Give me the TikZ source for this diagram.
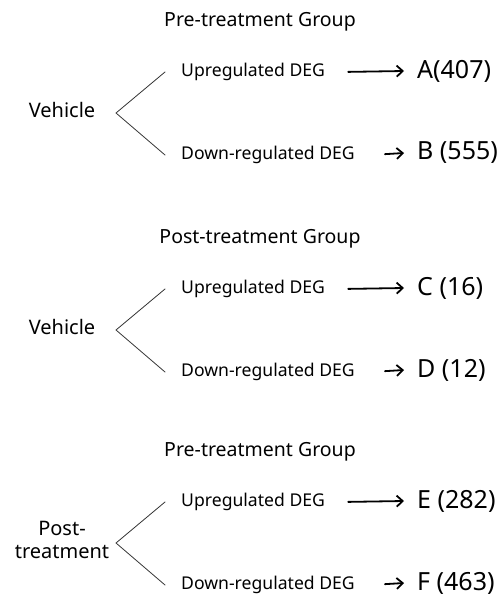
\documentclass[tikz,border=0pt]{standalone}
\usepackage{fontspec}
\setmainfont{Noto Sans}
\usetikzlibrary{arrows.meta}
\tikzset{
  title/.style={font=\fontsize{19.5}{23}\selectfont},
  source/.style={align=center, font=\fontsize{20}{23}\selectfont},
  deg/.style={anchor=west, inner xsep=16pt, inner ysep=0pt, font=\fontsize{17.6}{20}\selectfont},
  result/.style={anchor=west, inner xsep=13pt, inner ysep=0pt, font=\fontsize{25}{28}\selectfont},
  branch/.style={draw=black!80, line width=0.8pt},
  pointer/.style={draw, line width=1.8pt, -{Straight Barb[length=6pt, width=11pt]}}
}
\begin{document}
\begin{tikzpicture}[x=1pt, y=-1pt, line join=round, line cap=round]
  \useasboundingbox (0,0) rectangle (503,597);
  \foreach \y/\n/\grp/\src/\ra/\rb in {113/1/Pre-treatment Group/Vehicle/A(407)/B (555),
      330/2/Post-treatment Group/Vehicle/C (16)/D (12),
      543/3/Pre-treatment Group/{Post-\\treatment}/E (282)/F (463)}{
    \node[title] (grp\n) at (260,\y-91) {\grp};
    \node[source] (src\n) at (62,\y-3) {\src};
    \coordinate (v\n) at (116,\y);
    \node[deg] (up\n) at (165,\y-41) {Upregulated DEG};
    \node[deg] (down\n) at (165,\y+42) {Down-regulated DEG};
    \node[result] (ru\n) at (404,\y-42) {\ra};
    \node[result] (rd\n) at (404,\y+40) {\rb};
    \draw[branch] (up\n.west) -- (v\n) -- (down\n.west);
    \draw[pointer, shorten <=7pt] (up\n.east) -- (ru\n.west);
    \draw[pointer, shorten <=14pt] (down\n.east) -- (rd\n.west);
  }
\end{tikzpicture}
\end{document}
